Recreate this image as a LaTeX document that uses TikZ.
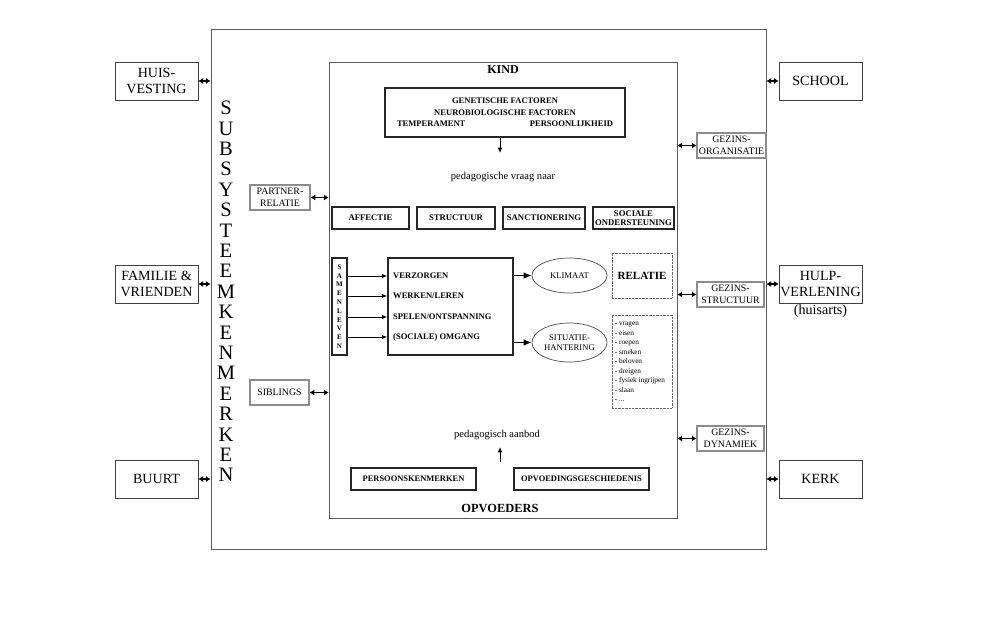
\documentclass[tikz,border=0pt]{standalone}
\usepackage{fontspec}
\setmainfont{Liberation Serif}
\usetikzlibrary{positioning,arrows.meta,shapes.geometric}

\begin{document}
\begin{tikzpicture}[
    x=0.3mm, y=-0.3mm,
    every node/.style={font=\fontsize{12}{14}\selectfont, inner sep=0pt},
    frame/.style={draw=black!65, line width=0.6pt},
    outbox/.style={draw=black!75, line width=0.6pt, align=center, minimum width=24.9mm, minimum height=11.4mm, font=\fontsize{12}{14}\selectfont},
    sidebox/.style={draw=black!45, line width=1pt, align=center, minimum height=7.5mm, font=\fontsize{8.4}{10.6}\selectfont},
    thickbox/.style={draw=black!85, line width=1.4pt, align=center, font=\bfseries\fontsize{7.4}{7.8}\selectfont},
    acttext/.style={anchor=west, font=\bfseries\fontsize{7.3}{8}\selectfont},
    dotbox/.style={draw=black!60, line width=0.6pt, dash pattern=on 0.6pt off 0.6pt},
    oval/.style={ellipse, draw=black!70, line width=0.6pt, align=center, minimum width=22.5mm, font=\fontsize{7.4}{8.8}\selectfont},
    dbl/.style={{Latex[length=1.4mm,width=1.8mm]}-{Latex[length=1.4mm,width=1.8mm]}, line width=1pt},
    arr/.style={-{Latex[length=1.6mm,width=1.4mm]}, line width=0.8pt},
    bigarr/.style={-{Latex[length=2.4mm,width=2mm]}, line width=1.3pt}
]
\useasboundingbox (0,0) rectangle (992,623);

\node[frame, minimum width=166.5mm, minimum height=156mm] (subsys) at (488.5,289) {};
\node[frame, minimum width=104.4mm, minimum height=136.8mm] (kind) at (503,290) {};

\foreach \l [count=\i] in {S,U,B,S,Y,S,T,E,E,M,K,E,N,M,E,R,K,E,N}
  \node[font=\fontsize{17.5}{18}\selectfont] (letter\i) at (226,87.6+20.4*\i) {\l};

\node[outbox] (huis) at (156.5,81) {HUIS-\\VESTING};
\node[outbox] (familie) at (156.5,284) {FAMILIE \&\\VRIENDEN};
\node[outbox] (buurt) at (156.5,479) {BUURT};
\node[outbox] (school) at (820.5,81) {SCHOOL};
\node[outbox] (hulp) at (820.5,284) {HULP-\\VERLENING};
\node[below=1pt of hulp] (huisarts) {(huisarts)};
\node[outbox] (kerk) at (820.5,479) {KERK};

\node[sidebox, minimum width=18mm] (partner) at (280,197.5) {PARTNER-\\RELATIE};
\node[sidebox, minimum width=17.7mm] (siblings) at (279.5,392.5) {SIBLINGS};
\node[sidebox, minimum width=20.7mm] (gorg) at (731.5,145.5) {GEZINS-\\ORGANISATIE};
\node[sidebox, minimum width=20.1mm] (gstruct) at (730.5,294.5) {GEZINS-\\STRUCTUUR};
\node[sidebox, minimum width=20.1mm] (gdyn) at (730.5,438.5) {GEZINS-\\DYNAMIEK};

\node[font=\bfseries\fontsize{10.3}{12}\selectfont] (kindlabel) at (503,70) {KIND};
\node[thickbox, minimum width=72mm, minimum height=14.7mm, font=\bfseries\fontsize{7.3}{9.8}\selectfont] (genetisch) at (505,112.5) {GENETISCHE FACTOREN\\NEUROBIOLOGISCHE FACTOREN\\\makebox[64.8mm]{TEMPERAMENT\hfill PERSOONLIJKHEID}};
\coordinate (vraagpunt) at (500,153);
\draw[arr] (genetisch.south -| vraagpunt) -- (vraagpunt);
\node[font=\fontsize{9}{10}\selectfont] (vraag) at (503,177) {pedagogische vraag naar};

\node[thickbox, minimum width=23.1mm, minimum height=6.6mm] (affectie) at (370.5,218) {AFFECTIE};
\node[thickbox, minimum width=23.4mm, minimum height=6.6mm] (structuur) at (456,218) {STRUCTUUR};
\node[thickbox, minimum width=24.6mm, minimum height=6.6mm] (sanctie) at (544,218) {SANCTIONERING};
\node[thickbox, minimum width=24.3mm, minimum height=6.6mm] (sociaal) at (633.5,218) {SOCIALE\\ONDERSTEUNING};

\node[thickbox, minimum width=4.5mm, minimum height=29.1mm, font=\bfseries\fontsize{6}{7.5}\selectfont] (samen) at (339.5,306.5) {S\\A\\M\\E\\N\\L\\E\\V\\E\\N};
\node[thickbox, minimum width=37.5mm, minimum height=29.1mm] (activ) at (450.5,306.5) {};
\node[acttext] (verzorgen) at (393,276) {VERZORGEN};
\node[acttext] (werken) at (393,296) {WERKEN/LEREN};
\node[acttext] (spelen) at (393,317) {SPELEN/ONTSPANNING};
\node[acttext] (omgang) at (393,337) {(SOCIALE) OMGANG};
\foreach \t in {verzorgen,werken,spelen,omgang}
  \draw[arr] (samen.east |- \t) -- (activ.west |- \t);

\node[oval, minimum height=10.5mm] (klimaat) at (569.5,275.5) {KLIMAAT};
\node[oval, minimum height=11.7mm] (situatie) at (569.5,342.5) {SITUATIE-\\HANTERING};
\draw[bigarr] (activ.east |- klimaat) -- (klimaat);
\draw[bigarr] (activ.east |- situatie) -- (situatie);

\node[dotbox, minimum width=18mm, minimum height=13.5mm, font=\bfseries\fontsize{9.4}{11}\selectfont] (relatie) at (642,275.5) {RELATIE};
\node[dotbox, minimum width=18mm, minimum height=27.9mm] (gedrag) at (642,361.5) {};
\node[anchor=north west, align=left, font=\fontsize{6.2}{8.1}\selectfont] (gedraglijst) at ([shift={(3,7)}]gedrag.north west) {- vragen\\- eisen\\- roepen\\- smeken\\- beloven\\- dreigen\\- fysiek ingrijpen\\- slaan\\- ...};

\node[font=\fontsize{9}{10}\selectfont] (aanbod) at (497,435) {pedagogisch aanbod};
\coordinate (aanbodvoet) at (500,462);
\coordinate (aanbodtop) at (500,447);
\draw[arr] (aanbodvoet) -- (aanbodtop);
\node[thickbox, minimum width=37.5mm, minimum height=6.6mm, font=\bfseries\fontsize{7.2}{8}\selectfont] (persoon) at (413.5,479) {PERSOONSKENMERKEN};
\node[thickbox, minimum width=40.5mm, minimum height=6.6mm, font=\bfseries\fontsize{7.2}{8}\selectfont] (geschiedenis) at (581.5,479) {OPVOEDINGSGESCHIEDENIS};
\node[font=\bfseries\fontsize{10.6}{12}\selectfont] (opvoeders) at (500,508) {OPVOEDERS};

\draw[dbl] (huis) -- (huis -| subsys.west);
\draw[dbl] (familie) -- (familie -| subsys.west);
\draw[dbl] (buurt) -- (buurt -| subsys.west);
\draw[dbl] (subsys.east |- school) -- (school);
\draw[dbl] (subsys.east |- hulp) -- (hulp);
\draw[dbl] (subsys.east |- kerk) -- (kerk);
\draw[dbl] (partner) -- (partner -| kind.west);
\draw[dbl] (siblings) -- (siblings -| kind.west);
\draw[dbl] (kind.east |- gorg) -- (gorg);
\draw[dbl] (kind.east |- gstruct) -- (gstruct);
\draw[dbl] (kind.east |- gdyn) -- (gdyn);
\end{tikzpicture}
\end{document}
